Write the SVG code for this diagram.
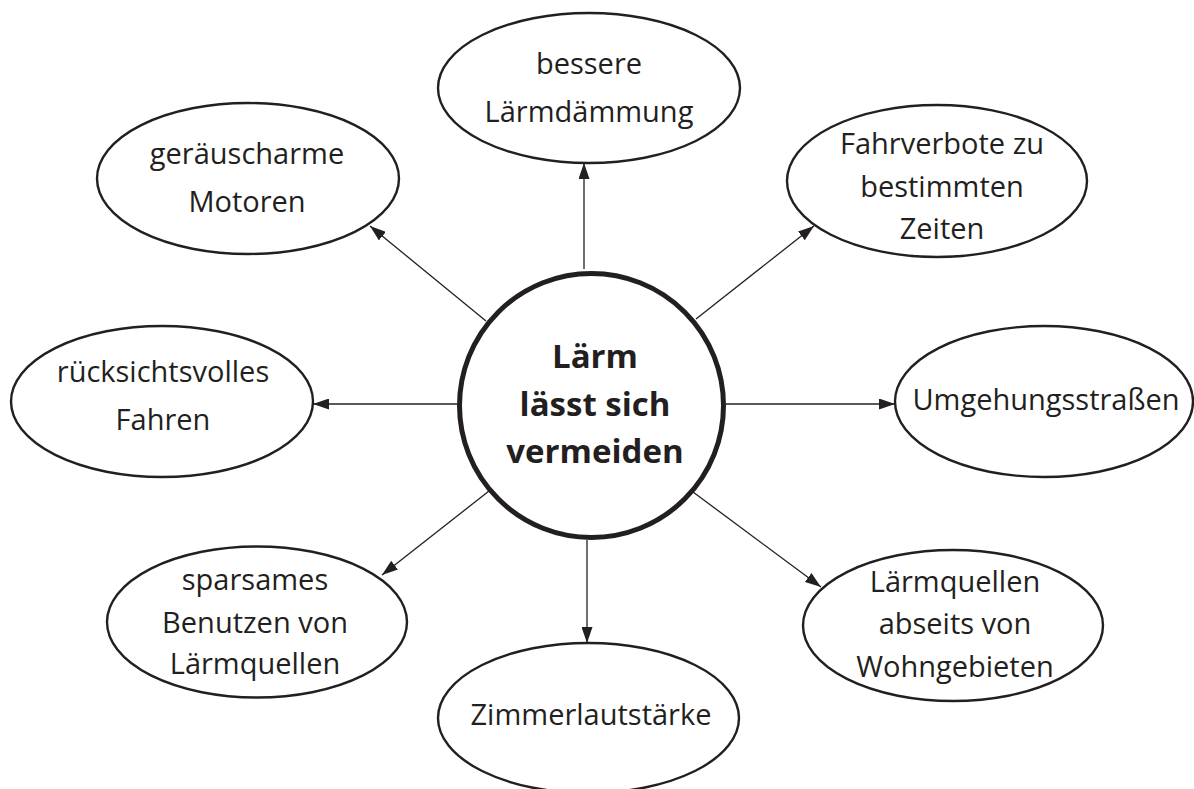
<svg xmlns="http://www.w3.org/2000/svg" width="1194" height="789" viewBox="0 0 1194 789">
<style>
.bg{fill:#ffffff}
.node ellipse{fill:#ffffff;stroke:#231f20;stroke-width:2.4}
.hub circle{fill:#ffffff;stroke:#231f20;stroke-width:5}
.t{font-family:"Open Sans","Noto Sans",sans-serif;font-size:29px;fill:#231f20;text-anchor:middle}
.tb{font-family:"Open Sans","Noto Sans",sans-serif;font-size:33px;font-weight:bold;fill:#231f20;text-anchor:middle}
.conn line{stroke:#231f20;stroke-width:1.3;fill:none}
</style>
<defs>
<marker id="arr" viewBox="0 0 16 11" refX="16" refY="5.5" markerWidth="16" markerHeight="11" markerUnits="userSpaceOnUse" orient="auto">
<path d="M0,0 L16,5.5 L0,11 z" fill="#231f20"/>
</marker>
</defs>
<rect class="bg" x="0" y="0" width="1194" height="789"/>
<g id="connectors" class="conn">
<line x1="584" y1="269" x2="584" y2="163" marker-end="url(#arr)"/>
<line x1="486" y1="321" x2="370" y2="226" marker-end="url(#arr)"/>
<line x1="696" y1="319" x2="814" y2="226" marker-end="url(#arr)"/>
<line x1="457" y1="404" x2="313" y2="404" marker-end="url(#arr)"/>
<line x1="726" y1="404" x2="895" y2="404" marker-end="url(#arr)"/>
<line x1="489" y1="491" x2="382" y2="575" marker-end="url(#arr)"/>
<line x1="587" y1="540" x2="587" y2="643" marker-end="url(#arr)"/>
<line x1="693" y1="492" x2="821" y2="587" marker-end="url(#arr)"/>
</g>
<g id="hub" class="hub">
<circle cx="591.5" cy="405.5" r="132"/>
<text class="tb" x="595" y="368">Lärm</text>
<text class="tb" x="595" y="416">lässt sich</text>
<text class="tb" x="595" y="463">vermeiden</text>
</g>
<g id="n-laermdaemmung" class="node">
<ellipse cx="589" cy="88" rx="151" ry="75"/>
<text class="t" x="589" y="74">bessere</text>
<text class="t" x="589" y="122">Lärmdämmung</text>
</g>
<g id="n-motoren" class="node">
<ellipse cx="248" cy="178.5" rx="151" ry="75.5"/>
<text class="t" x="247" y="164">geräuscharme</text>
<text class="t" x="247" y="212">Motoren</text>
</g>
<g id="n-fahrverbote" class="node">
<ellipse cx="937" cy="181" rx="150" ry="76"/>
<text class="t" x="942" y="154">Fahrverbote zu</text>
<text class="t" x="942" y="197">bestimmten</text>
<text class="t" x="942" y="239">Zeiten</text>
</g>
<g id="n-fahren" class="node">
<ellipse cx="162" cy="401.5" rx="151" ry="75.5"/>
<text class="t" x="163" y="382">rücksichtsvolles</text>
<text class="t" x="163" y="430">Fahren</text>
</g>
<g id="n-umgehung" class="node">
<ellipse cx="1044" cy="401.5" rx="149" ry="75.5"/>
<text class="t" x="1046" y="410">Umgehungsstraßen</text>
</g>
<g id="n-sparsam" class="node">
<ellipse cx="257" cy="622" rx="150" ry="75.5"/>
<text class="t" x="255" y="590">sparsames</text>
<text class="t" x="255" y="633">Benutzen von</text>
<text class="t" x="255" y="674">Lärmquellen</text>
</g>
<g id="n-zimmer" class="node">
<ellipse cx="588.5" cy="718" rx="150.5" ry="75"/>
<text class="t" x="591" y="725">Zimmerlautstärke</text>
</g>
<g id="n-abseits" class="node">
<ellipse cx="953" cy="625.5" rx="150" ry="75.5"/>
<text class="t" x="955" y="592">Lärmquellen</text>
<text class="t" x="955" y="634">abseits von</text>
<text class="t" x="955" y="677">Wohngebieten</text>
</g>
</svg>
